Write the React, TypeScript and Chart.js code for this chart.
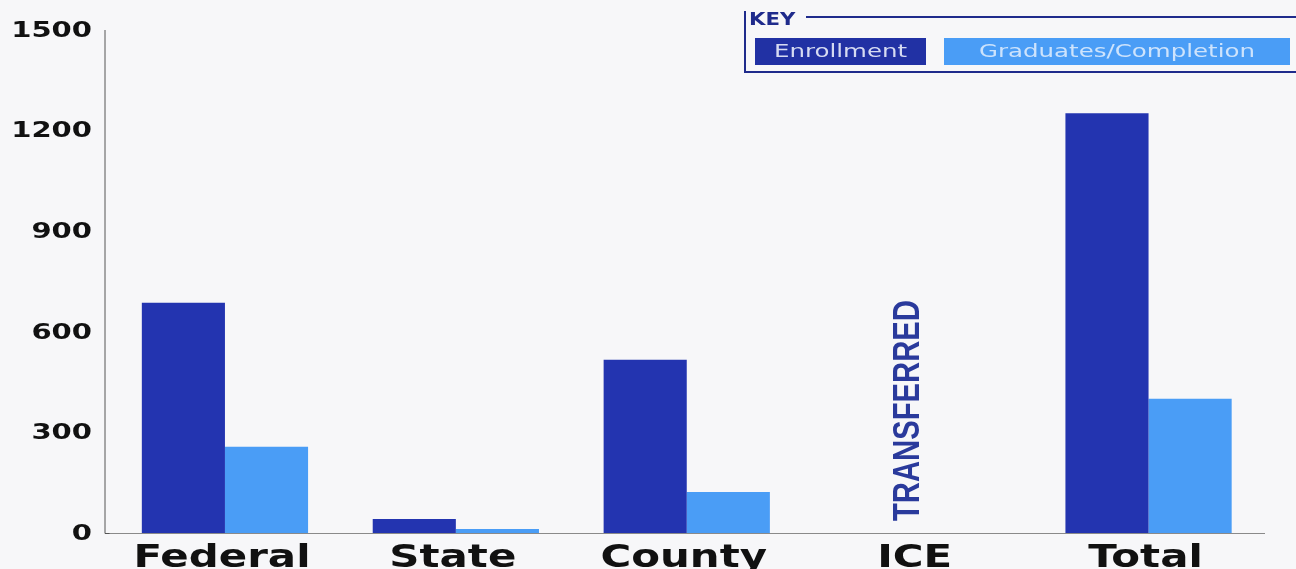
import React, { useEffect, useRef } from "react";
import { Chart, registerables } from "chart.js";

Chart.register(...registerables);

const categories = ["Federal", "State", "County", "ICE", "Total"];
const enrollment = [687, 42, 517, 0, 1252];
const graduates = [257, 12, 122, 0, 400];
const yTicks = [0, 300, 600, 900, 1200, 1500];
const seriesLabels = ["Enrollment", "Graduates/Completion"];
const iceNote = "TRANSFERRED";
const keyTitle = "KEY";

const DARK = "#2334b0";
const LIGHT = "#4a9df6";
const NAVY = "#1f2b8c";

function drawStretched(
  ctx: CanvasRenderingContext2D,
  text: string,
  x: number,
  y: number,
  font: string,
  sx: number,
  align: CanvasTextAlign,
  baseline: CanvasTextBaseline,
  color: string
) {
  ctx.save();
  ctx.translate(x, y);
  ctx.scale(sx, 1);
  ctx.font = font;
  ctx.textAlign = align;
  ctx.textBaseline = baseline;
  ctx.fillStyle = color;
  ctx.fillText(text, 0, 0);
  ctx.restore();
}

const decorPlugin = {
  id: "decor",
  beforeDraw(chart: any) {
    const ctx = chart.ctx;
    ctx.save();
    ctx.fillStyle = "#f7f7f9";
    ctx.fillRect(0, 0, chart.width, chart.height);
    ctx.restore();
  },
  afterDraw(chart: any) {
    const ctx: CanvasRenderingContext2D = chart.ctx;
    const xs = chart.scales.x;
    const ys = chart.scales.y;
    const area = chart.chartArea;

    // y axis line (sits slightly left of the first category band)
    ctx.save();
    ctx.strokeStyle = "#555";
    ctx.lineWidth = 1;
    ctx.beginPath();
    ctx.moveTo(area.left - 4.5, ys.getPixelForValue(1500));
    ctx.lineTo(area.left - 4.5, ys.getPixelForValue(0) + 0.5);
    ctx.lineTo(area.left, ys.getPixelForValue(0) + 0.5);
    ctx.stroke();
    ctx.restore();

    // y tick labels
    ys.ticks.forEach((t: any) => {
      const py = ys.getPixelForValue(t.value);
      drawStretched(ctx, String(t.value), 92, py + 1, "bold 22px 'DejaVu Sans'", 1.32, "right", "middle", "#111");
    });

    // x category labels
    (chart.data.labels as string[]).forEach((lab, i) => {
      const px = xs.getPixelForValue(i);
      drawStretched(ctx, lab, px - 3, 567, "bold 32px 'DejaVu Sans'", 1.31, "center", "alphabetic", "#111");
    });

    // ICE note
    const iceIdx = categories.indexOf("ICE");
    const ipx = xs.getPixelForValue(iceIdx);
    ctx.save();
    ctx.translate(ipx + 1, ys.getPixelForValue(0) - 12);
    ctx.rotate(-Math.PI / 2);
    ctx.scale(0.79, 1);
    ctx.font = "bold 37px 'Liberation Sans'";
    ctx.textAlign = "left";
    ctx.textBaseline = "alphabetic";
    ctx.fillStyle = "#2a3a9c";
    ctx.fillText(iceNote, 0, 0);
    ctx.restore();

    // Key legend
    ctx.save();
    ctx.strokeStyle = NAVY;
    ctx.lineWidth = 2;
    ctx.beginPath();
    ctx.moveTo(745, 11);
    ctx.lineTo(745, 73);
    ctx.moveTo(806, 17);
    ctx.lineTo(1296, 17);
    ctx.moveTo(744, 72);
    ctx.lineTo(1296, 72);
    ctx.stroke();
    ctx.restore();
    drawStretched(ctx, keyTitle, 749, 25, "bold 17px 'DejaVu Sans'", 1.25, "left", "alphabetic", NAVY);

    const ds = chart.data.datasets;
    const boxes = [
      { x: 755, w: 171 },
      { x: 944, w: 346 },
    ];
    const txtColors = ["#d6dbf2", "#cde3fc"];
    const boxColors = ["#2131a4", LIGHT];
    ds.forEach((d: any, i: number) => {
      const b = boxes[i];
      ctx.save();
      ctx.fillStyle = boxColors[i];
      ctx.fillRect(b.x, 38, b.w, 27);
      ctx.restore();
      drawStretched(ctx, d.label, b.x + b.w / 2, 52, "18px 'DejaVu Sans'", 1.36, "center", "middle", txtColors[i]);
    });
  },
};

export default function App() {
  const ref = useRef<HTMLCanvasElement | null>(null);
  useEffect(() => {
    document.body.style.margin = "0";
    document.body.style.background = "#f7f7f9";
    if (!ref.current) return;
    const chart = new Chart(ref.current, {
      type: "bar",
      data: {
        labels: categories,
        datasets: [
          { label: seriesLabels[0], data: enrollment, backgroundColor: DARK, barPercentage: 1, categoryPercentage: 0.72 },
          { label: seriesLabels[1], data: graduates, backgroundColor: LIGHT, barPercentage: 1, categoryPercentage: 0.72 },
        ],
      },
      options: {
        animation: false,
        responsive: true,
        maintainAspectRatio: false,
        layout: { padding: { left: 101.5, top: 30, right: 32, bottom: 28 } },
        plugins: { legend: { display: false }, tooltip: { enabled: false } },
        scales: {
          x: {
            grid: { display: false },
            ticks: { display: false },
            border: { color: "#8a8a8a", width: 1 },
          },
          y: {
            min: 0,
            max: 1500,
            afterBuildTicks: (axis: any) => {
              axis.ticks = yTicks.map((v) => ({ value: v }));
            },
            grid: { display: false },
            ticks: { display: false },
            border: { display: false },
          },
        },
      },
      plugins: [decorPlugin],
    });
    return () => chart.destroy();
  }, []);
  return (
    <div style={{ width: 1296, height: 569, position: "relative" }}>
      <canvas ref={ref} />
    </div>
  );
}
